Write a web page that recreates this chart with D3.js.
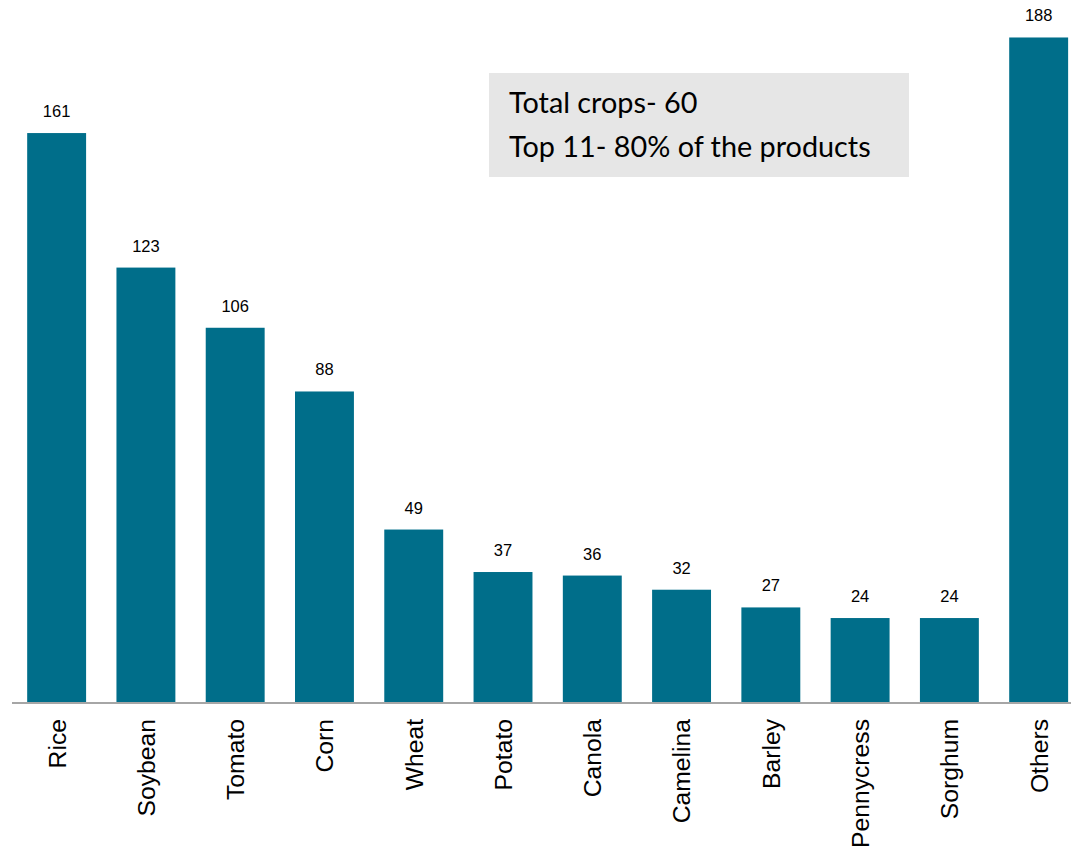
<!DOCTYPE html>
<html>
<head>
<meta charset="utf-8">
<script src="https://cdn.jsdelivr.net/npm/d3@7"></script>
<style>
  html, body { margin: 0; padding: 0; background: #fff; }
  svg { display: block; }
</style>
</head>
<body>
<svg id="chart" width="1071" height="852"></svg>
<script>
// Crop names and publication counts
const crops = ["Rice", "Soybean", "Tomato", "Corn", "Wheat", "Potato", "Canola",
               "Camelina", "Barley", "Pennycress", "Sorghum", "Others"];
const counts = [161, 123, 106, 88, 49, 37, 36, 32, 27, 24, 24, 188];
const noteLines = ["Total crops- 60", "Top 11- 80% of the products"];

const svg = d3.select("#chart");
const barColor = "#006e8a";
const baseY = 703;

const x = d3.scaleBand()
  .domain(crops)
  .range([12, 1083.3])
  .paddingInner(0.34)
  .paddingOuter(0.17);

const y = d3.scaleLinear()
  .domain([0, 188])
  .range([baseY, baseY - 188 * 3.54]);

const data = crops.map((c, i) => ({ crop: c, value: counts[i] }));

// bars
svg.append("g")
  .selectAll("rect")
  .data(data)
  .join("rect")
  .attr("x", d => x(d.crop))
  .attr("y", d => y(d.value))
  .attr("width", x.bandwidth())
  .attr("height", d => y(0) - y(d.value))
  .attr("fill", barColor);

// value labels above the bars
svg.append("g")
  .selectAll("text")
  .data(data)
  .join("text")
  .attr("x", d => x(d.crop) + x.bandwidth() / 2)
  .attr("y", d => y(d.value) - 16)
  .attr("text-anchor", "middle")
  .attr("font-family", "Liberation Sans, Arial, sans-serif")
  .attr("font-size", 16.5)
  .attr("fill", "#000")
  .text(d => d.value);

// category axis, rotated labels
const xAxis = svg.append("g")
  .attr("transform", `translate(0,${baseY})`)
  .call(d3.axisBottom(x).tickSize(0).tickPadding(0));
xAxis.select(".domain").remove();
xAxis.selectAll("text")
  .attr("font-family", "Liberation Sans, Arial, sans-serif")
  .attr("font-size", 24.7)
  .attr("fill", "#000")
  .attr("text-anchor", "end")
  .attr("transform", "rotate(-90)")
  .attr("x", -16)
  .attr("y", 0)
  .attr("dy", "0.36em");

// baseline
svg.append("line")
  .attr("x1", 12).attr("x2", 1071)
  .attr("y1", baseY).attr("y2", baseY)
  .attr("stroke", "#a6a6a6")
  .attr("stroke-width", 2);

// annotation box
const note = svg.append("g");
note.append("rect")
  .attr("x", 489).attr("y", 73)
  .attr("width", 420).attr("height", 104)
  .attr("fill", "#e6e6e6");
note.selectAll("text")
  .data(noteLines)
  .join("text")
  .attr("x", 509)
  .attr("y", (d, i) => 113 + i * 44)
  .attr("font-family", "Lato, 'Open Sans', sans-serif")
  .attr("font-size", 28.8)
  .attr("fill", "#000")
  .text(d => d);
</script>
</body>
</html>
